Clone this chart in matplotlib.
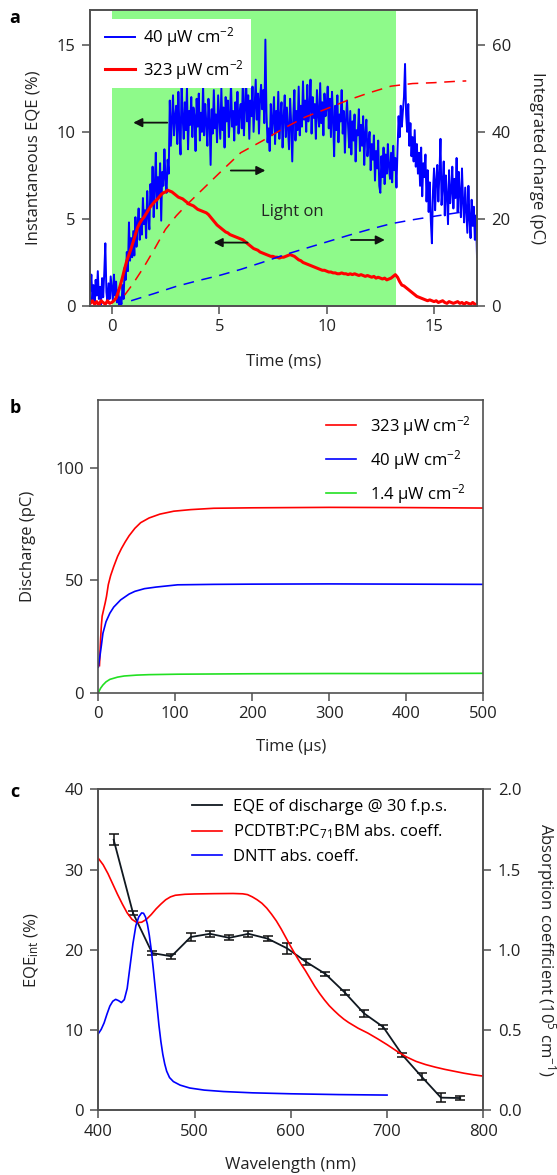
import numpy as np
import matplotlib.pyplot as plt

# --- Estilo general ---
plt.rcParams['font.family'] = ['Open Sans', 'DejaVu Sans']
plt.rcParams['mathtext.fontset'] = 'custom'
plt.rcParams['mathtext.rm'] = 'Open Sans'
plt.rcParams['mathtext.it'] = 'Open Sans:italic'
plt.rcParams['mathtext.bf'] = 'Open Sans:bold'
plt.rcParams['font.size'] = 12
plt.rcParams['axes.edgecolor'] = '#505050'
plt.rcParams['axes.linewidth'] = 1.2
plt.rcParams['xtick.color'] = '#505050'
plt.rcParams['ytick.color'] = '#505050'
plt.rcParams['xtick.labelcolor'] = '#222222'
plt.rcParams['ytick.labelcolor'] = '#222222'
plt.rcParams['xtick.major.size'] = 5.5
plt.rcParams['ytick.major.size'] = 5.5
plt.rcParams['xtick.major.width'] = 1.1
plt.rcParams['ytick.major.width'] = 1.1
plt.rcParams['xtick.major.pad'] = 4
plt.rcParams['ytick.major.pad'] = 5
plt.rcParams['axes.labelcolor'] = '#222222'

# --- Panel a: EQE instantáneo (paso 0.05 ms, de -1 a 17 ms) ---
eqe_40 = [
    0.9, 1.8, 0.3, 1.2, 0.2, 1.5, 0.6, 2.0, 0.4, 1.1, 0.1, 1.6, 0.5, 1.9, 3.6, 0.8, 0.2, 1.3, 0.4, 1.7,
    1.0, 0.3, 1.8, 0.6, 1.4, 0.2, 0.9, 0.0, 0.5, 0.1, 1.2, 0.4, 2.2, 1.5, 3.1, 2.0, 4.8, 2.6, 3.9, 2.8,
    4.3, 2.9, 5.1, 3.4, 4.6, 5.6, 3.8, 5.0, 4.1, 6.2, 4.7, 5.5, 3.9, 6.6, 5.2, 4.4, 7.0, 5.8, 8.0, 5.1,
    6.8, 8.8, 5.6, 7.4, 6.3, 8.2, 4.9, 7.7, 6.9, 9.0, 7.3, 6.5, 8.4, 7.6, 11.8, 9.2, 10.6, 12.1, 9.8, 10.9,
    11.5, 9.3, 12.3, 10.2, 8.7, 12.9, 10.8, 9.6, 11.7, 10.1, 12.6, 9.0, 11.2, 10.4, 12.0, 9.7, 11.4, 10.9, 8.9, 11.9,
    10.3, 12.2, 9.5, 11.1, 10.0, 12.7, 9.8, 11.6, 10.5, 9.2, 11.9, 10.7, 8.1, 11.3, 9.9, 12.4, 10.2, 11.0, 9.4, 12.1,
    10.8, 9.6, 12.5, 10.1, 11.4, 9.1, 12.0, 10.6, 11.8, 9.7, 10.9, 12.8, 10.3, 11.2, 9.5, 11.7, 10.4, 12.3, 9.9, 11.1,
    11.6, 10.2, 12.9, 9.8, 11.3, 13.2, 10.6, 12.1, 9.6, 11.8, 10.9, 12.6, 10.0, 11.5, 13.0, 10.7, 12.2, 9.9, 11.9, 12.7,
    11.3, 12.4, 10.5, 15.3, 11.1, 9.4, 10.2, 8.9, 11.6, 9.8, 10.7, 12.0, 9.3, 11.2, 10.0, 12.3, 9.6, 10.9, 11.7, 9.1,
    10.8, 12.1, 9.7, 11.4, 10.2, 9.0, 11.9, 10.5, 8.3, 10.9, 12.4, 9.5, 11.2, 10.1, 12.6, 9.8, 11.5, 10.3, 12.9, 10.7,
    11.8, 10.0, 12.7, 10.6, 11.3, 13.0, 9.9, 12.0, 10.8, 11.6, 9.6, 12.4, 11.0, 10.3, 12.8, 10.5, 11.7, 9.8, 12.2, 10.9,
    11.4, 12.6, 10.2, 11.9, 9.7, 12.3, 10.8, 8.6, 11.5, 10.1, 12.1, 9.4, 11.0, 10.6, 12.4, 9.9, 11.2, 8.8, 10.7, 11.8,
    10.3, 9.1, 11.2, 8.7, 10.6, 9.5, 11.0, 8.3, 10.1, 9.8, 11.3, 8.9, 10.4, 9.2, 10.9, 8.1, 9.9, 10.7, 8.6, 9.4,
    10.0, 7.8, 9.3, 8.4, 9.8, 7.2, 8.9, 7.9, 9.5, 6.9, 6.5, 8.6, 7.4, 9.1, 7.0, 8.7, 7.6, 9.3, 8.0, 7.3,
    8.8, 7.1, 9.2, 7.8, 8.5, 6.8, 9.0, 10.9, 9.7, 11.5, 10.3, 11.2, 12.0, 13.9, 11.0, 10.0, 11.6, 9.2, 10.5, 8.6,
    9.7, 8.3, 10.1, 8.0, 9.3, 7.6, 8.8, 6.9, 9.1, 6.3, 8.2, 7.4, 8.7, 6.0, 7.8, 5.4, 7.1, 4.9, 3.6, 6.6,
    7.9, 5.5, 7.2, 8.1, 6.0, 7.6, 9.6, 5.8, 6.9, 8.3, 5.2, 7.5, 6.3, 4.7, 7.8, 5.9, 6.6, 8.0, 5.6, 7.3,
    6.2, 8.5, 5.4, 7.7, 6.5, 5.1, 7.9, 6.0, 4.8, 6.8, 5.5, 4.2, 6.9, 5.0, 3.9, 6.1, 4.6, 5.7, 3.8, 5.2,
    2.8,
]
t_40 = np.linspace(-1, 17, len(eqe_40))

# EQE a 323 uW/cm2 (paso 0.1 ms)
eqe_323 = [
    0.15, 0.3, 0.1, 0.25, 0.05, 0.3, 0.2, 0.1, 0.3, 0.15,
    0.2, 0.3, 0.45, 0.8, 1.2, 1.65, 2.15, 2.6, 2.95, 3.3,
    3.7, 4.1, 4.5, 4.75, 4.95, 5.1, 5.3, 5.5, 5.7, 5.85,
    6.0, 6.1, 6.25, 6.4, 6.5, 6.55, 6.65, 6.6, 6.55, 6.45,
    6.35, 6.25, 6.2, 6.15, 6.05, 5.95, 5.85, 5.8, 5.75, 5.65,
    5.55, 5.5, 5.45, 5.4, 5.35, 5.25, 5.1, 4.95, 4.8, 4.65,
    4.55, 4.45, 4.35, 4.25, 4.2, 4.1, 4.05, 4.0, 3.95, 3.9,
    3.85, 3.8, 3.7, 3.6, 3.5, 3.4, 3.3, 3.25, 3.2, 3.1,
    3.05, 3.0, 2.95, 2.9, 2.85, 2.85, 2.8, 2.8, 2.75, 2.8,
    2.8, 2.85, 2.9, 2.95, 2.9, 2.85, 2.75, 2.65, 2.6, 2.5,
    2.45, 2.4, 2.35, 2.3, 2.25, 2.2, 2.15, 2.1, 2.05, 2.05,
    2.0, 1.95, 1.95, 1.9, 1.9, 1.85, 1.85, 1.9, 1.85, 1.85,
    1.8, 1.85, 1.8, 1.85, 1.8, 1.75, 1.8, 1.75, 1.7, 1.75,
    1.7, 1.65, 1.7, 1.6, 1.65, 1.6, 1.55, 1.6, 1.5, 1.55,
    1.6, 1.7, 1.8, 1.65, 1.4, 1.2, 1.15, 1.05, 0.95, 0.85,
    0.75, 0.65, 0.55, 0.5, 0.45, 0.4, 0.35, 0.3, 0.35, 0.3,
    0.25, 0.3, 0.2, 0.25, 0.3, 0.2, 0.15, 0.25, 0.2, 0.15,
    0.2, 0.25, 0.15, 0.2, 0.1, 0.2, 0.15, 0.1, 0.2, 0.1,
    0.1,
]
t_323 = np.linspace(-1, 17, len(eqe_323))

# Carga integrada (pC)
tq_323 = [0.6, 1.0, 1.5, 2.0, 2.5, 3.0, 3.5, 4.0, 5.0, 6.0, 7.0, 8.0, 9.0,
          10.0, 11.0, 12.0, 13.0, 14.0, 15.0, 16.0, 16.5]
q_323 = [2.5, 5.2, 9.0, 13.2, 17.6, 20.7, 23.3, 25.7, 30.5, 35.2, 37.9, 40.8,
         43.4, 45.3, 47.3, 49.0, 50.5, 51.1, 51.3, 51.6, 51.7]
tq_40 = [0.9, 2.0, 3.0, 4.0, 5.0, 6.0, 7.0, 8.0, 9.0, 10.0, 11.0, 12.0,
         13.0, 14.0, 15.0, 16.2]
q_40 = [1.2, 2.9, 4.5, 5.8, 7.0, 8.4, 10.0, 11.7, 13.2, 14.7, 16.2, 17.6,
        18.9, 19.8, 20.6, 21.5]

luz_inicio, luz_fin = 0.0, 13.25

# --- Panel b: descarga (pC) vs tiempo (us) ---
tb_323 = [1.5, 3, 4, 5, 7, 9, 10.6, 13, 16, 20, 25, 30, 35, 40, 47.5, 55, 66,
          80, 98, 120, 150, 200, 300, 400, 500]
qb_323 = [12, 24, 30, 34, 37, 40, 42.7, 48, 52, 56, 60.5, 64, 67, 69.7, 73,
          75.5, 77.6, 79.3, 80.6, 81.3, 81.9, 82.1, 82.3, 82.2, 82.0]
tb_40 = [0, 2, 4, 6, 10, 15, 20, 29, 40, 47.5, 60, 75, 103, 150, 200, 300, 400, 500]
qb_40 = [11.3, 16, 21, 26.4, 31.5, 35.3, 38, 41.2, 43.8, 45, 46.2, 46.9,
         47.9, 48.1, 48.2, 48.3, 48.2, 48.1]
tb_14 = [0, 3, 6, 10, 15, 25, 33.6, 50, 66, 103, 200, 300, 400, 500]
qb_14 = [0, 2.0, 3.4, 4.8, 5.9, 6.9, 7.4, 7.8, 8.0, 8.2, 8.4, 8.5, 8.5, 8.6]

# --- Panel c: espectros ---
lam_eqe = [416, 436, 456, 476, 496, 516, 536, 556, 576, 596, 616, 636, 656,
           676, 696, 716, 736, 756, 776]
eqe_int = [33.7, 24.6, 19.6, 19.2, 21.6, 22.0, 21.5, 22.0, 21.4, 20.2, 18.5,
           17.0, 14.7, 12.1, 10.4, 6.9, 4.2, 1.6, 1.55]
eqe_err = [0.7, 0.3, 0.2, 0.3, 0.5, 0.35, 0.3, 0.35, 0.3, 0.7, 0.35, 0.2,
           0.35, 0.4, 0.2, 0.2, 0.45, 0.6, 0.25]

lam_pcd = [400, 405, 410, 415, 420, 425, 430, 435, 440, 445, 450, 455, 460,
           465, 470, 475, 480, 490, 500, 520, 540, 550, 555, 560, 565, 570,
           575, 580, 585, 590, 595, 600, 605, 610, 615, 620, 625, 630, 635,
           640, 645, 650, 655, 660, 670, 680, 690, 700, 710, 720, 730, 740,
           750, 760, 770, 780, 790, 800]
abs_pcd = [1.570, 1.530, 1.475, 1.410, 1.345, 1.285, 1.230, 1.190, 1.170,
           1.172, 1.190, 1.220, 1.255, 1.285, 1.312, 1.330, 1.340, 1.346,
           1.348, 1.350, 1.351, 1.349, 1.344, 1.330, 1.312, 1.290, 1.260,
           1.222, 1.180, 1.130, 1.075, 1.020, 0.968, 0.918, 0.872, 0.822,
           0.772, 0.728, 0.688, 0.652, 0.622, 0.594, 0.569, 0.548, 0.512,
           0.482, 0.447, 0.410, 0.370, 0.334, 0.306, 0.286, 0.270, 0.256,
           0.244, 0.232, 0.222, 0.214]

lam_dntt = [400, 403, 406, 409, 412, 415, 418, 421, 424, 427, 430, 433, 436,
            439, 442, 445, 447, 449, 451, 453, 455, 457, 459, 461, 463, 465,
            467, 469, 471, 474, 478, 485, 495, 510, 530, 560, 600, 650, 700]
abs_dntt = [0.478, 0.505, 0.545, 0.600, 0.650, 0.680, 0.692, 0.684, 0.672,
            0.690, 0.760, 0.900, 1.040, 1.150, 1.205, 1.230, 1.228, 1.205,
            1.160, 1.090, 1.000, 0.890, 0.770, 0.650, 0.530, 0.430, 0.350,
            0.290, 0.245, 0.205, 0.180, 0.158, 0.140, 0.127, 0.118, 0.110,
            0.104, 0.099, 0.096]

AZUL = '#0000ff'
ROJO = '#ff0000'
VERDE_LUZ = '#8efa8a'

fig = plt.figure(figsize=(5.57, 11.75), dpi=100)


def centrar_etiquetas(eje, x_izq, y_inf, eje_der=None, x_der=None):
    """Coloca las etiquetas de los ejes en posiciones fijas (fracción del eje)."""
    eje.yaxis.set_label_coords(x_izq, 0.5)
    eje.yaxis.label.set_va('center')
    eje.xaxis.set_label_coords(0.5, y_inf)
    eje.xaxis.label.set_va('center')
    if eje_der is not None:
        eje_der.yaxis.set_label_coords(x_der, 0.5)
        eje_der.yaxis.label.set_va('center')


# ================= Panel a =================
ax = fig.add_axes([0.1621, 0.7396, 0.6943, 0.2519])
ax.axvspan(luz_inicio, luz_fin, color=VERDE_LUZ, lw=0, zorder=0)
ax.plot(t_40, eqe_40, color=AZUL, lw=1.4, label='40 μW cm$^{-2}$', zorder=2)
ax.plot(t_323, eqe_323, color=ROJO, lw=2.2, label='323 μW cm$^{-2}$', zorder=3)
ax.set_xlim(-1, 17)
ax.set_ylim(0, 17)
ax.set_xticks([0, 5, 10, 15])
ax.set_yticks([0, 5, 10, 15])
ax.set_xlabel('Time (ms)')
ax.set_ylabel('Instantaneous EQE (%)')
ax.text(8.39, 5.42, 'Light on', ha='center', va='center', color='#222222')

flecha = dict(arrowstyle='-|>', color='#111111', lw=1.3, mutation_scale=13,
              shrinkA=0, shrinkB=0)
ax.annotate('', xy=(1.0, 10.53), xytext=(2.58, 10.53), arrowprops=flecha)
ax.annotate('', xy=(7.15, 7.78), xytext=(5.54, 7.78), arrowprops=flecha)
ax.annotate('', xy=(4.74, 3.64), xytext=(6.32, 3.64), arrowprops=flecha)
ax.annotate('', xy=(12.71, 3.79), xytext=(11.13, 3.79), arrowprops=flecha)

leg = ax.legend(loc='upper left', bbox_to_anchor=(0.022, 0.97), borderaxespad=0,
                frameon=True, fancybox=False, framealpha=1, facecolor='white',
                edgecolor='none', handlelength=1.8, handletextpad=0.45,
                labelspacing=0.5, borderpad=0.4)
leg.set_zorder(5)

ax2 = ax.twinx()
ax2.plot(tq_323, q_323, color=ROJO, lw=1.1, dashes=(7, 5))
ax2.plot(tq_40, q_40, color=AZUL, lw=1.1, dashes=(7, 5))
ax2.set_ylim(0, 68)
ax2.set_yticks([0, 20, 40, 60])
ax2.set_ylabel('Integrated charge (pC)', rotation=270)
centrar_etiquetas(ax, -0.146, -0.189, ax2, 1.155)

# ================= Panel b =================
bx = fig.add_axes([0.1765, 0.4105, 0.6912, 0.2491])
bx.plot(tb_323, qb_323, color=ROJO, lw=1.2, label='323 μW cm$^{-2}$')
bx.plot(tb_40, qb_40, color=AZUL, lw=1.2, label='40 μW cm$^{-2}$')
bx.plot(tb_14, qb_14, color='#22e022', lw=1.2, label='1.4 μW cm$^{-2}$')
bx.set_xlim(0, 500)
bx.set_ylim(0, 130)
bx.set_xticks([0, 100, 200, 300, 400, 500])
bx.set_yticks([0, 50, 100])
bx.set_xlabel('Time (μs)')
bx.set_ylabel('Discharge (pC)')
bx.legend(loc='upper left', bbox_to_anchor=(0.575, 0.975), borderaxespad=0,
          frameon=False, handlelength=1.8, handletextpad=0.8,
          labelspacing=0.6)
centrar_etiquetas(bx, -0.183, -0.184)

# ================= Panel c =================
cx = fig.add_axes([0.1765, 0.0549, 0.6912, 0.2734])
cx.errorbar(lam_eqe, eqe_int, yerr=eqe_err, color='#101820', lw=1.3,
            elinewidth=1.1, capsize=3.5, capthick=1.1, ecolor='#101010',
            zorder=3)
cx.set_xlim(400, 800)
cx.set_ylim(0, 40)
cx.set_xticks([400, 500, 600, 700, 800])
cx.set_yticks([0, 10, 20, 30, 40])
cx.set_xlabel('Wavelength (nm)')
cx.set_ylabel('EQE$_{\\mathrm{int}}$ (%)')

cx2 = cx.twinx()
cx2.plot(lam_pcd, abs_pcd, color=ROJO, lw=1.2)
cx2.plot(lam_dntt, abs_dntt, color=AZUL, lw=1.2)
cx2.set_ylim(0, 2.0)
cx2.set_yticks([0.0, 0.5, 1.0, 1.5, 2.0])
cx2.set_yticklabels(['0.0', '0.5', '1.0', '1.5', '2.0'])
cx2.set_ylabel('Absorption coefficient (10$^{5}$ cm$^{-1}$)', rotation=270)
centrar_etiquetas(cx, -0.172, -0.170, cx2, 1.163)

# Leyenda común del panel c
h_eqe, = cx.plot([], [], color='#101820', lw=1.3)
h_pcd, = cx.plot([], [], color=ROJO, lw=1.2)
h_dnt, = cx.plot([], [], color=AZUL, lw=1.2)
cx2.legend([h_eqe, h_pcd, h_dnt],
           ['EQE of discharge @ 30 f.p.s.', 'PCDTBT:PC$_{71}$BM abs. coeff.',
            'DNTT abs. coeff.'],
           loc='upper left', bbox_to_anchor=(0.225, 0.99), borderaxespad=0,
           frameon=False, handlelength=1.8, handletextpad=0.7,
           labelspacing=0.45)

# Letras de los paneles
fig.text(15 / 557, 1 - 18 / 1175, 'a', fontsize=13, fontweight='bold',
         ha='center', va='center')
fig.text(15 / 557, 1 - 408 / 1175, 'b', fontsize=13, fontweight='bold',
         ha='center', va='center')
fig.text(15 / 557, 1 - 792 / 1175, 'c', fontsize=13, fontweight='bold',
         ha='center', va='center')

fig.savefig('out.png', dpi=100)
plt.close(fig)
